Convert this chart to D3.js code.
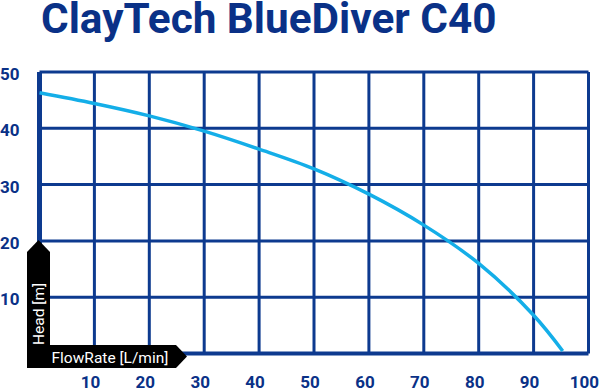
<!DOCTYPE html>
<html>
<head>
<meta charset="utf-8">
<script src="https://cdn.jsdelivr.net/npm/d3@7"></script>
<style>
  body { margin: 0; background: #fff; }
  svg { display: block; font-family: Roboto, "Noto Sans", sans-serif; }
</style>
</head>
<body>
<svg id="chart" width="600" height="389"></svg>
<script>
// pump curve
const flowRate = [0, 10, 20, 30, 40, 50, 60, 70, 80, 90, 95.3]
const head = [46.3, 44.4, 42.2, 39.5, 36.3, 32.8, 28.3, 22.8, 16.0, 6.8, 0.45]
const xTicks = [10, 20, 30, 40, 50, 60, 70, 80, 90, 100]
const yTicks = [10, 20, 30, 40, 50]

const darkBlue = '#0a3187'
const gridBlue = '#0d3a8f'
const curveBlue = '#14aee8'

const svg = d3.select('#chart')

const x = d3.scaleLinear().domain([0, 100]).range([39.5, 588.5])
const y = d3.scaleLinear().domain([0, 50]).range([353.5, 72])

// title
svg.append('text')
    .attr('x', 41)
    .attr('y', 33)
    .attr('fill', darkBlue)
    .attr('font-size', 42.3)
    .attr('font-weight', 'bold')
    .text('ClayTech BlueDiver C40')

// grid
const grid = svg.append('g')
grid.selectAll('.vline')
    .data(d3.range(0, 101, 10))
    .enter().append('line')
    .attr('x1', d => x(d)).attr('x2', d => x(d))
    .attr('y1', y(50)).attr('y2', y(0))
    .attr('stroke', gridBlue)
    .attr('stroke-width', d => d === 0 ? 5 : 3)
grid.selectAll('.hline')
    .data(d3.range(0, 51, 10))
    .enter().append('line')
    .attr('x1', x(0)).attr('x2', x(100))
    .attr('y1', d => y(d)).attr('y2', d => y(d))
    .attr('stroke', gridBlue)
    .attr('stroke-width', d => d === 0 ? 4 : 3)

// tick labels
svg.selectAll('.ylab')
    .data(yTicks)
    .enter().append('text')
    .attr('x', 0)
    .attr('y', d => y(d) + 8)
    .attr('fill', darkBlue)
    .attr('font-size', 17)
    .attr('font-weight', 'bold')
    .text(d => d)
svg.selectAll('.xlab')
    .data(xTicks)
    .enter().append('text')
    .attr('x', d => x(d) - 4)
    .attr('y', 387.5)
    .attr('text-anchor', 'middle')
    .attr('fill', darkBlue)
    .attr('font-size', 17)
    .attr('font-weight', 'bold')
    .text(d => d)

// curve
const line = d3.line()
    .x((d, i) => x(flowRate[i]))
    .y(d => y(d))
    .curve(d3.curveCatmullRom)
svg.append('path')
    .attr('d', line(head))
    .attr('fill', 'none')
    .attr('stroke', curveBlue)
    .attr('stroke-width', 3.5)

// axis name arrows
svg.append('path')
    .attr('d', 'M27,368 L27,252 L38.5,240 L50,252 L50,368 Z')
    .attr('fill', '#000')
svg.append('path')
    .attr('d', 'M27,345 L176,345 L187,356.5 L176,368 L27,368 Z')
    .attr('fill', '#000')
svg.append('text')
    .attr('transform', 'translate(44,345) rotate(-90)')
    .attr('fill', '#fff')
    .attr('font-size', 15.5)
    .text('Head [m]')
svg.append('text')
    .attr('x', 51.5)
    .attr('y', 362.5)
    .attr('fill', '#fff')
    .attr('font-size', 15.5)
    .text('FlowRate [L/min]')
</script>
</body>
</html>
